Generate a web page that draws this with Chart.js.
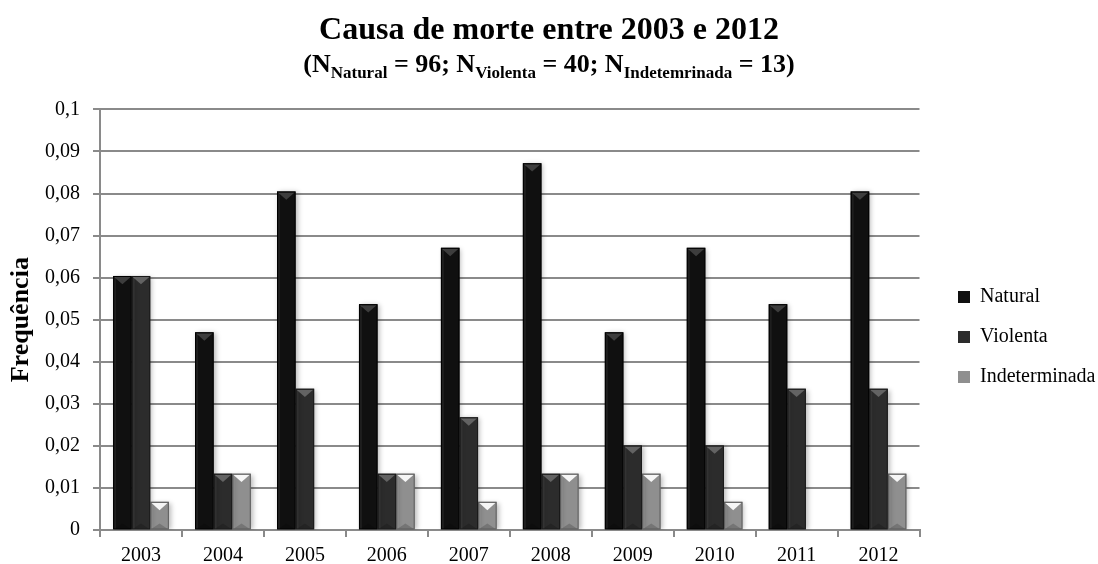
<!DOCTYPE html>
<html>
<head>
<meta charset="utf-8">
<script src="https://cdn.jsdelivr.net/npm/chart.js@4/dist/chart.umd.min.js"></script>
<style>
  html, body { margin: 0; padding: 0; background: #fff; }
  #wrap { width: 1098px; height: 564px; }
</style>
</head>
<body>
<div id="wrap"><canvas id="deathChart" width="1098" height="564"></canvas></div>
<script>
// Frequency of each cause of death per year
const years = ['2003', '2004', '2005', '2006', '2007', '2008', '2009', '2010', '2011', '2012'];
const natural = [0.0604, 0.0470, 0.0805, 0.0537, 0.0671, 0.0872, 0.0470, 0.0671, 0.0537, 0.0805];
const violenta = [0.0604, 0.0134, 0.0336, 0.0134, 0.0268, 0.0134, 0.0201, 0.0201, 0.0336, 0.0336];
const indeterminada = [0.0067, 0.0134, 0, 0.0134, 0.0067, 0.0134, 0.0134, 0.0067, 0, 0.0134];
const yTickLabels = ['0', '0,01', '0,02', '0,03', '0,04', '0,05', '0,06', '0,07', '0,08', '0,09', '0,1'];

// subtitle pieces: [text, isSubscript]
const subtitleParts = [
    ['(N', false], ['Natural', true], [' = 96; N', false], ['Violenta', true],
    [' = 40; N', false], ['Indetemrinada', true], [' = 13)', false]
];

const serif = "'Liberation Serif', 'Times New Roman', serif";

// body colour, top bevel colour, edge colour per series
const barLook = [
    { body: '#101010', top: '#3d3d3d', edge: '#000000' },
    { body: '#2c2c2c', top: '#636363', edge: '#1a1a1a' },
    { body: '#8f8f8f', top: '#f6f6f6', edge: '#5c5c5c' }
];

// draws the pyramid-like top and soft edges on every bar
const bevelBars = {
    id: 'bevelBars',
    beforeDatasetsDraw(chart) {
        const ctx = chart.ctx;
        ctx.save();
        ctx.shadowColor = 'rgba(0,0,0,0.28)';
        ctx.shadowBlur = 5;
        ctx.shadowOffsetX = 2;
        ctx.shadowOffsetY = 1;
    },
    afterDatasetsDraw(chart) {
        const ctx = chart.ctx;
        ctx.restore();
        chart.data.datasets.forEach((ds, di) => {
            const look = barLook[di];
            chart.getDatasetMeta(di).data.forEach(bar => {
                const h = bar.base - bar.y;
                if (h < 1) return;
                const l = bar.x - bar.width / 2;
                const r = bar.x + bar.width / 2;
                const depth = Math.min(bar.width * 0.45, h * 0.6);
                ctx.save();
                // top face
                ctx.fillStyle = look.top;
                ctx.beginPath();
                ctx.moveTo(l + 1, bar.y + 1);
                ctx.lineTo(r - 1, bar.y + 1);
                ctx.lineTo(bar.x, bar.y + depth);
                ctx.closePath();
                ctx.fill();
                // bottom face, a bit darker
                const bDepth = Math.min(bar.width * 0.3, h * 0.3);
                ctx.fillStyle = 'rgba(0,0,0,0.18)';
                ctx.beginPath();
                ctx.moveTo(l + 1, bar.base);
                ctx.lineTo(r - 1, bar.base);
                ctx.lineTo(bar.x, bar.base - bDepth);
                ctx.closePath();
                ctx.fill();
                // side edges
                ctx.fillStyle = 'rgba(255,255,255,0.06)';
                ctx.fillRect(l + 1, bar.y + 1, 2, h - 1);
                ctx.strokeStyle = look.edge;
                ctx.lineWidth = 1;
                ctx.strokeRect(l + 0.5, bar.y + 0.5, bar.width - 1, h - 0.5);
                ctx.restore();
            });
        });
    }
};

// second title line, with subscripts
const subtitleLine = {
    id: 'subtitleLine',
    afterDraw(chart) {
        const ctx = chart.ctx;
        const mainFont = 'bold 26px ' + serif;
        const subFont = 'bold 17px ' + serif;
        ctx.save();
        let total = 0;
        subtitleParts.forEach(p => {
            ctx.font = p[1] ? subFont : mainFont;
            total += ctx.measureText(p[0]).width;
        });
        let x = chart.width / 2 - total / 2;
        ctx.fillStyle = '#000';
        ctx.textBaseline = 'alphabetic';
        ctx.textAlign = 'left';
        subtitleParts.forEach(p => {
            ctx.font = p[1] ? subFont : mainFont;
            ctx.fillText(p[0], x, p[1] ? 78 : 72);
            x += ctx.measureText(p[0]).width;
        });
        ctx.restore();
    }
};

// place the legend off to the right, a bit lower than centre,
// and keep the title centred on the whole canvas
const boxShift = {
    id: 'boxShift',
    afterLayout(chart) {
        const lg = chart.legend;
        const dx = 938 - lg.left;
        lg.left += dx;
        lg.right += dx;
        lg.top += 55;
        lg.bottom += 55;
        const tb = chart.titleBlock;
        const tx = (chart.width - (tb.left + tb.right)) / 2;
        tb.left += tx;
        tb.right += tx;
    }
};

const ctx = document.getElementById('deathChart').getContext('2d');
new Chart(ctx, {
    type: 'bar',
    data: {
        labels: years,
        datasets: [
            { label: 'Natural', data: natural, backgroundColor: barLook[0].body },
            { label: 'Violenta', data: violenta, backgroundColor: barLook[1].body },
            { label: 'Indeterminada', data: indeterminada, backgroundColor: barLook[2].body }
        ]
    },
    options: {
        responsive: false,
        animation: false,
        layout: { padding: { left: 0, right: 11, top: 0, bottom: 0 } },
        datasets: {
            bar: { barPercentage: 1, categoryPercentage: 0.68 }
        },
        plugins: {
            title: {
                display: true,
                text: 'Causa de morte entre 2003 e 2012',
                color: '#000',
                font: { family: serif, size: 32, weight: 'bold', lineHeight: 1.2 },
                padding: { top: 12, bottom: 59 }
            },
            legend: {
                position: 'right',
                labels: {
                    color: '#000',
                    font: { family: serif, size: 20 },
                    boxWidth: 12,
                    boxHeight: 12,
                    padding: 20
                }
            },
            tooltip: { enabled: false }
        },
        scales: {
            x: {
                afterFit(scale) { scale.height = 34; },
                border: { color: '#8a8a8a', width: 2 },
                grid: { drawOnChartArea: false, color: '#8a8a8a', lineWidth: 2, tickLength: 7 },
                ticks: { color: '#000', font: { family: serif, size: 20 }, padding: 7 }
            },
            y: {
                min: 0,
                max: 0.1,
                afterFit(scale) { scale.width = 100; },
                border: { color: '#8a8a8a', width: 2 },
                grid: { color: '#8a8a8a', lineWidth: 2, tickLength: 7 },
                ticks: {
                    stepSize: 0.01,
                    color: '#000',
                    font: { family: serif, size: 20 },
                    padding: 13,
                    callback: (v, i) => yTickLabels[i]
                },
                title: {
                    display: true,
                    text: 'Frequência',
                    color: '#000',
                    font: { family: serif, size: 26, weight: 'bold', lineHeight: 1.2 },
                    padding: { top: 6, bottom: 0 }
                }
            }
        }
    },
    plugins: [bevelBars, subtitleLine, boxShift]
});
</script>
</body>
</html>
